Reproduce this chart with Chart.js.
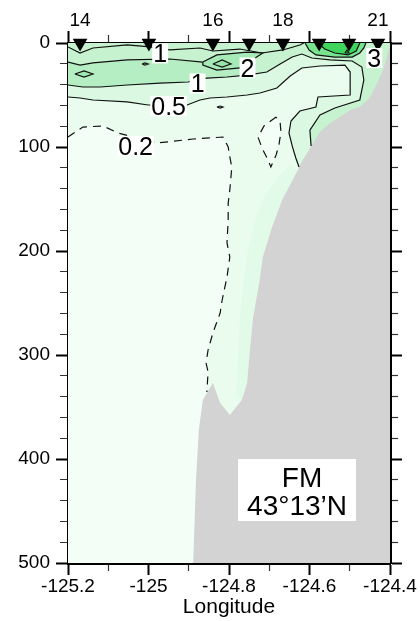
<!DOCTYPE html>
<html>
<head>
<meta charset="utf-8">
<script src="https://cdn.jsdelivr.net/npm/chart.js@4/dist/chart.umd.min.js"></script>
<style>
  html, body { margin: 0; padding: 0; background: #fff; }
</style>
</head>
<body>
<canvas id="section" width="420" height="621"></canvas>
<script>
// axes
const lonMin = -125.2, lonMax = -124.4, depthMax = 500;
const lonTicks = [-125.2, -125.1, -125.0, -124.9, -124.8, -124.7, -124.6, -124.5, -124.4];
const lonTickLabels = ['-125.2', '', '-125', '', '-124.8', '', '-124.6', '', '-124.4'];
const depthTicks = [0, 20, 40, 60, 80, 100, 120, 140, 160, 180, 200, 220, 240, 260, 280,
                    300, 320, 340, 360, 380, 400, 420, 440, 460, 480, 500];

// stations along the section
const stationLon = [-125.170, -124.999, -124.840, -124.750, -124.666, -124.576, -124.502, -124.430];
const stationLabels = ['14', '', '16', '', '18', '', '', '21'];

// contour lines, [lon, depth]
const contour02 = [[-125.200, 90.4], [-125.163, 80.8], [-125.113, 79.8], [-125.076, 86.5], [-124.979, 96.2],
  [-124.889, 92.3], [-124.815, 90.4], [-124.802, 100], [-124.798, 109.6], [-124.793, 119.2], [-124.798, 141.3],
  [-124.802, 153.8], [-124.802, 170.2], [-124.805, 192.3], [-124.798, 205.8], [-124.805, 225], [-124.817, 247.1],
  [-124.822, 259.6], [-124.840, 278.8], [-124.852, 295.2], [-124.857, 307.7], [-124.852, 316.3], [-124.855, 335.6]];
const loop02 = [[-124.683, 71.2], [-124.713, 79.8], [-124.728, 90.4], [-124.718, 101], [-124.703, 112.5],
  [-124.696, 119.2], [-124.683, 107.7], [-124.676, 98.1], [-124.671, 85.6], [-124.673, 76], [-124.683, 71.2]];
const contour05 = [[-125.200, 51.9], [-125.170, 52.9], [-125.138, 54.8], [-125.053, 56.7], [-125.001, 59.6],
  [-124.904, 59.6], [-124.872, 54.8], [-124.847, 52.9], [-124.805, 51.9], [-124.755, 50], [-124.723, 48.1],
  [-124.681, 43.3], [-124.648, 31.7], [-124.619, 24], [-124.574, 22.1], [-124.512, 21.2], [-124.499, 27.9],
  [-124.499, 50], [-124.579, 51.9], [-124.584, 61.5], [-124.624, 65.4], [-124.646, 75], [-124.651, 86.5],
  [-124.643, 99], [-124.634, 110.6], [-124.626, 119.2]];
const contour1 = [[-125.200, 40.4], [-125.163, 42.3], [-125.120, 42.3], [-125.053, 40.4], [-124.971, 38.5],
  [-124.902, 37.5], [-124.855, 33.7], [-124.805, 32.7], [-124.755, 30.8], [-124.706, 27.9], [-124.673, 20.2],
  [-124.643, 13.5], [-124.619, 10.6], [-124.594, 14.4], [-124.549, 16.3], [-124.494, 17.3], [-124.470, 23.1],
  [-124.465, 35.6], [-124.475, 54.8], [-124.537, 62.5], [-124.574, 69.2], [-124.599, 83.7], [-124.596, 99]];
const contour1Top = [[-125.200, 3.8], [-125.170, 9.6], [-125.138, 4.8], [-125.053, 1.9], [-124.996, 3.8],
  [-124.947, 6.7], [-124.872, 4.8], [-124.840, 7.7], [-124.773, 5.8], [-124.718, 9.6], [-124.666, 6.7],
  [-124.624, 1.9], [-124.614, 0]];
const contourMid = [[-125.200, 18.3], [-125.170, 21.2], [-125.138, 19.2], [-125.053, 16.3], [-124.947, 15.4],
  [-124.865, 18.3]];
const loop2 = [[-124.865, 18.3], [-124.830, 11.5], [-124.755, 8.7], [-124.716, 9.6], [-124.735, 14.4],
  [-124.773, 24], [-124.830, 26], [-124.865, 21.2], [-124.865, 18.3]];
const core2 = [[-124.840, 20.2], [-124.817, 16.3], [-124.795, 20.2], [-124.817, 23.1], [-124.840, 20.2]];
const coreWest = [[-125.183, 29.8], [-125.160, 26.9], [-125.138, 29.8], [-125.160, 32.7], [-125.183, 29.8]];
const dotA = [[-125.016, 20.2], [-125.009, 19.2], [-125.001, 20.2], [-125.009, 21.2], [-125.016, 20.2]];
const dotB = [[-124.830, 61.5], [-124.822, 60.6], [-124.815, 61.5], [-124.822, 62.5], [-124.830, 61.5]];
const patch2 = [[-124.611, 0], [-124.601, 6.7], [-124.584, 11.5], [-124.537, 13.5], [-124.494, 13.5],
  [-124.475, 9.6], [-124.465, 4.8], [-124.460, 0]];
const patch3 = [[-124.579, 0], [-124.562, 5.8], [-124.537, 9.6], [-124.504, 11.5], [-124.484, 7.7], [-124.475, 0]];
const patch3Dot = [[-124.512, 9.6], [-124.507, 6.7], [-124.502, 9.6], [-124.512, 9.6]];
const slopeBand = [[-124.629, 122.1], [-124.668, 151], [-124.693, 176.9], [-124.716, 205.8], [-124.725, 230.8],
  [-124.740, 263.5], [-124.748, 295.2], [-124.755, 326.9], [-124.768, 343.3], [-124.783, 338.5], [-124.778, 304.8],
  [-124.773, 266.3], [-124.763, 227.9], [-124.753, 199], [-124.735, 170.2], [-124.711, 146.2], [-124.673, 126.9],
  [-124.648, 117.3]];

// bottom topography (shelf and slope)
const landEdge = [[-124.889, 500], [-124.882, 420.2], [-124.875, 372.1], [-124.865, 343.3], [-124.840, 326.9],
  [-124.822, 346.2], [-124.798, 357.7], [-124.768, 343.3], [-124.755, 326.9], [-124.748, 295.2], [-124.740, 263.5],
  [-124.725, 230.8], [-124.716, 205.8], [-124.693, 176.9], [-124.668, 151], [-124.629, 122.1], [-124.624, 117.3],
  [-124.606, 105.8], [-124.591, 96.2], [-124.574, 85.6], [-124.549, 76.9], [-124.524, 71.2], [-124.499, 64.4],
  [-124.475, 61.5], [-124.450, 52.9], [-124.432, 38.5], [-124.417, 26], [-124.410, 16.3], [-124.402, 4.8],
  [-124.400, 4.8]];

// contour labels
const labelText = ['1', '2', '1', '0.5', '0.2', '3'];
const labelLon = [-124.971, -124.754, -124.878, -124.950, -125.032, -124.439];
const labelDepth = [10, 23.6, 38.9, 60.6, 99, 14.4];

const infoText = ['FM', '43°13’N'];
const infoLon = -124.631, infoDepth = 429.8;

const pts = arr => arr.map(([x, y]) => ({x, y}));
// close a contour to the surface, going round through the land
const bandAbove = arr => arr.concat([[arr[arr.length - 1][0], depthMax], [lonMax, depthMax], [lonMax, 0], [lonMin, 0]]);

function area(arr, color, order) {
  return {type: 'line', data: pts(arr), fill: 'shape', backgroundColor: color, borderWidth: 0,
    pointRadius: 0, tension: 0, order};
}
function line(arr, dashed) {
  return {type: 'line', data: pts(arr), fill: false, borderColor: '#111', borderWidth: 1.2,
    borderDash: dashed ? [8, 6] : [], pointRadius: 0, tension: 0, order: 20};
}

const midBand = contourMid.concat([loop2[7], loop2[6], loop2[5]], contour1.slice(0, 9).reverse());

const datasets = [
  area([[lonMin, 0], [lonMax, 0], [lonMax, depthMax], [lonMin, depthMax]], '#f3fff6', 100),
  area(bandAbove(contour02), '#eafcee', 95),
  area(slopeBand, '#e2fae8', 93),
  area(loop02, '#f3fff6', 92),
  area(bandAbove(contour05), '#dbf8e2', 90),
  area(bandAbove(contour1), '#c6f2d0', 85),
  area(midBand, '#b6eec4', 80),
  area(loop2, '#a6eab8', 75),
  area(core2, '#96e6aa', 70),
  area(coreWest, '#9fe8b1', 70),
  area(patch2, '#78e490', 65),
  area(patch3, '#3fd45b', 60),
  area(landEdge.concat([[lonMax, depthMax]]), '#d3d3d3', 40),
  line(contour02, true),
  line(loop02, true),
  line(contour05),
  line(contour1),
  line(contour1Top),
  line(contourMid),
  line(loop2),
  line(core2),
  line(coreWest),
  line(dotA),
  line(dotB),
  line(patch2),
  line(patch3),
  line(patch3Dot),
  {type: 'line', data: stationLon.map(v => ({x: v, y: 0})), showLine: false, pointStyle: 'triangle',
    rotation: 180, pointRadius: 8.5, pointBackgroundColor: '#000', pointBorderWidth: 0, clip: false, order: 5}
];

const tickFont = {family: '"Liberation Sans", Arial, sans-serif', size: 19, lineHeight: 1};
const majorLon = c => c.index % 2 === 0;
const majorDepth = c => c.tick && c.tick.value % 100 === 0;
const frame = {display: true, color: '#000', width: 3};

function tickGrid(isMajor, minorDash) {
  return {
    drawOnChartArea: false, drawTicks: true, tickLength: 12,
    tickColor: c => isMajor(c) ? '#000' : '#333',
    tickWidth: c => isMajor(c) ? 2 : 1.2,
    tickBorderDash: c => isMajor(c) ? [] : minorDash
  };
}

const contourLabels = {
  id: 'contourLabels',
  afterDatasetsDraw(chart) {
    const {ctx, scales: {x, y}} = chart;
    ctx.save();
    ctx.textAlign = 'center';
    ctx.textBaseline = 'alphabetic';
    ctx.font = '25px "Liberation Sans", Arial, sans-serif';
    labelText.forEach((t, i) => {
      const px = x.getPixelForValue(labelLon[i]);
      const py = y.getPixelForValue(labelDepth[i]);
      const w = ctx.measureText(t).width;
      ctx.fillStyle = '#fff';
      ctx.fillRect(px - w / 2 - 1, py - 10, w + 2, 20);
      ctx.fillStyle = '#000';
      ctx.fillText(t, px, py + 9);
    });
    // station box
    const bx = x.getPixelForValue(infoLon);
    const by = y.getPixelForValue(infoDepth);
    ctx.fillStyle = '#fff';
    ctx.fillRect(bx - 59, by - 31, 118, 62);
    ctx.fillStyle = '#000';
    ctx.font = '28px "Liberation Sans", Arial, sans-serif';
    ctx.fillText(infoText[0], bx + 5, by - 3);
    ctx.fillText(infoText[1], bx, by + 25);
    ctx.restore();
  }
};

new Chart(document.getElementById('section'), {
  type: 'line',
  data: {datasets},
  options: {
    responsive: false,
    animation: false,
    devicePixelRatio: 1,
    events: [],
    layout: {padding: 0},
    plugins: {legend: {display: false}, tooltip: {enabled: false}},
    scales: {
      x: {
        type: 'linear', position: 'bottom', min: lonMin, max: lonMax, z: 1,
        afterBuildTicks: a => { a.ticks = lonTicks.map(v => ({value: v})); },
        afterFit: a => { a.height = 58; },
        border: frame,
        grid: tickGrid(majorLon, [6, 100]),
        ticks: {autoSkip: false, maxRotation: 0, padding: 2, color: '#000', font: tickFont,
          callback: (v, i) => lonTickLabels[i]},
        title: {display: true, text: 'Longitude', color: '#000',
          font: {family: '"Liberation Sans", Arial, sans-serif', size: 21, lineHeight: 1},
          padding: {top: 0, bottom: 3}}
      },
      xTop: {
        type: 'linear', position: 'top', min: lonMin, max: lonMax, z: 1, weight: 0,
        afterBuildTicks: a => { a.ticks = lonTicks.map(v => ({value: v})); },
        afterFit: a => { a.height = 13; },
        border: frame,
        grid: tickGrid(majorLon, [0, 4, 8, 100]),
        ticks: {display: false}
      },
      xStn: {
        type: 'linear', position: 'top', min: lonMin, max: lonMax, z: 1, weight: 1,
        afterBuildTicks: a => { a.ticks = stationLon.map(v => ({value: v})); },
        afterFit: a => { a.height = 30; },
        border: {display: false},
        grid: {display: false, drawTicks: false},
        ticks: {autoSkip: false, maxRotation: 0, padding: 0, color: '#000', font: tickFont,
          callback: (v, i) => stationLabels[i]}
      },
      y: {
        type: 'linear', position: 'left', reverse: true, min: 0, max: depthMax, z: 1,
        afterBuildTicks: a => { a.ticks = depthTicks.map(v => ({value: v})); },
        afterFit: a => { a.width = 68; },
        border: frame,
        grid: tickGrid(majorDepth, [0, 4, 8, 100]),
        ticks: {autoSkip: false, padding: 6, color: '#000', font: tickFont,
          callback: v => (v % 100 === 0 ? String(v) : '')}
      },
      yRight: {
        type: 'linear', position: 'right', reverse: true, min: 0, max: depthMax, z: 1,
        afterBuildTicks: a => { a.ticks = depthTicks.map(v => ({value: v})); },
        afterFit: a => { a.width = 30; },
        border: frame,
        grid: tickGrid(majorDepth, [6, 100]),
        ticks: {display: false}
      }
    }
  },
  plugins: [contourLabels]
});
</script>
</body>
</html>
